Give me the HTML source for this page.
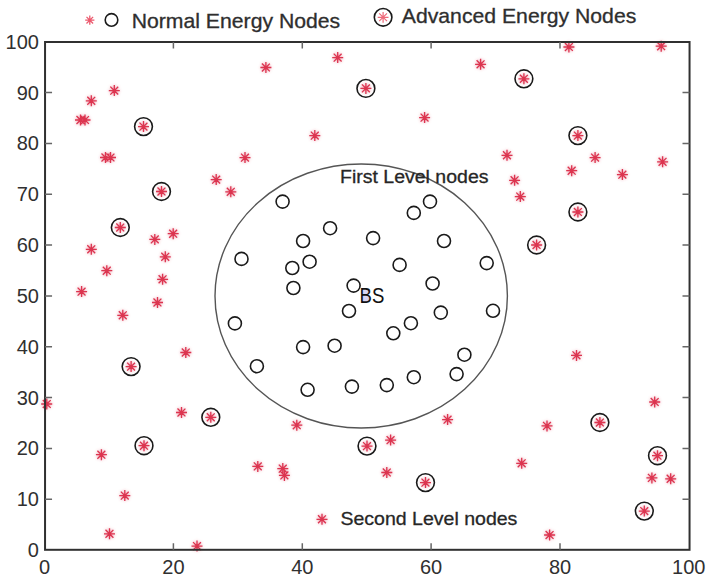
<!DOCTYPE html>
<html><head><meta charset="utf-8"><style>
html,body{margin:0;padding:0;background:#fff;width:711px;height:586px;overflow:hidden}
svg{display:block;font-family:"Liberation Sans",sans-serif}
</style></head><body>
<svg width="711" height="586" viewBox="0 0 711 586" font-family="Liberation Sans, sans-serif">
<rect width="711" height="586" fill="#fff"/>
<ellipse cx="361.2" cy="296" rx="146.2" ry="132" fill="none" stroke="#555" stroke-width="1.4"/>
<defs><filter id="hb" x="-5%" y="-5%" width="110%" height="110%"><feGaussianBlur in="SourceGraphic" stdDeviation="1.6" result="b"/><feComponentTransfer in="b" result="b2"><feFuncA type="linear" slope="0.55"/></feComponentTransfer><feGaussianBlur in="SourceGraphic" stdDeviation="0.35" result="s"/><feMerge><feMergeNode in="b2"/><feMergeNode in="s"/></feMerge></filter></defs><path d="M108.8 90.6h11.0M114.3 85.1v11.0M110.3 86.6l7.9 7.9M110.3 94.6l7.9 -7.9M85.8 100.8h11.0M91.3 95.3v11.0M87.3 96.8l7.9 7.9M87.3 104.8l7.9 -7.9M75.0 120.0h11.0M80.5 114.5v11.0M76.5 116.0l7.9 7.9M76.5 124.0l7.9 -7.9M79.5 120.0h11.0M85.0 114.5v11.0M81.0 116.0l7.9 7.9M81.0 124.0l7.9 -7.9M100.0 157.5h11.0M105.5 152.0v11.0M101.5 153.5l7.9 7.9M101.5 161.5l7.9 -7.9M105.0 157.5h11.0M110.5 152.0v11.0M106.5 153.5l7.9 7.9M106.5 161.5l7.9 -7.9M260.4 67.5h11.0M265.9 62.0v11.0M261.9 63.5l7.9 7.9M261.9 71.5l7.9 -7.9M332.2 57.6h11.0M337.7 52.1v11.0M333.7 53.6l7.9 7.9M333.7 61.6l7.9 -7.9M309.3 135.6h11.0M314.8 130.1v11.0M310.8 131.6l7.9 7.9M310.8 139.6l7.9 -7.9M239.5 157.6h11.0M245.0 152.1v11.0M241.0 153.6l7.9 7.9M241.0 161.6l7.9 -7.9M419.1 117.6h11.0M424.6 112.1v11.0M420.6 113.6l7.9 7.9M420.6 121.6l7.9 -7.9M475.1 64.3h11.0M480.6 58.8v11.0M476.6 60.3l7.9 7.9M476.6 68.3l7.9 -7.9M563.4 47.0h11.0M568.9 41.5v11.0M564.9 43.0l7.9 7.9M564.9 51.0l7.9 -7.9M655.7 46.2h11.0M661.2 40.7v11.0M657.2 42.2l7.9 7.9M657.2 50.2l7.9 -7.9M501.5 155.3h11.0M507.0 149.8v11.0M503.0 151.3l7.9 7.9M503.0 159.3l7.9 -7.9M589.6 157.6h11.0M595.1 152.1v11.0M591.1 153.6l7.9 7.9M591.1 161.6l7.9 -7.9M657.1 161.8h11.0M662.6 156.3v11.0M658.6 157.8l7.9 7.9M658.6 165.8l7.9 -7.9M566.2 170.7h11.0M571.7 165.2v11.0M567.7 166.7l7.9 7.9M567.7 174.7l7.9 -7.9M616.9 174.6h11.0M622.4 169.1v11.0M618.4 170.6l7.9 7.9M618.4 178.6l7.9 -7.9M509.1 180.3h11.0M514.6 174.8v11.0M510.6 176.3l7.9 7.9M510.6 184.3l7.9 -7.9M514.8 196.6h11.0M520.3 191.1v11.0M516.3 192.6l7.9 7.9M516.3 200.6l7.9 -7.9M167.7 233.7h11.0M173.2 228.2v11.0M169.2 229.7l7.9 7.9M169.2 237.7l7.9 -7.9M149.3 239.4h11.0M154.8 233.9v11.0M150.8 235.4l7.9 7.9M150.8 243.4l7.9 -7.9M85.8 249.3h11.0M91.3 243.8v11.0M87.3 245.3l7.9 7.9M87.3 253.3l7.9 -7.9M159.8 256.8h11.0M165.3 251.3v11.0M161.3 252.8l7.9 7.9M161.3 260.8l7.9 -7.9M101.3 270.7h11.0M106.8 265.2v11.0M102.8 266.7l7.9 7.9M102.8 274.7l7.9 -7.9M157.1 279.3h11.0M162.6 273.8v11.0M158.6 275.3l7.9 7.9M158.6 283.3l7.9 -7.9M76.1 291.6h11.0M81.6 286.1v11.0M77.6 287.6l7.9 7.9M77.6 295.6l7.9 -7.9M152.0 302.5h11.0M157.5 297.0v11.0M153.5 298.5l7.9 7.9M153.5 306.5l7.9 -7.9M117.3 315.3h11.0M122.8 309.8v11.0M118.8 311.3l7.9 7.9M118.8 319.3l7.9 -7.9M180.3 352.5h11.0M185.8 347.0v11.0M181.8 348.5l7.9 7.9M181.8 356.5l7.9 -7.9M41.2 404.0h11.0M46.8 398.5v11.0M42.8 400.0l7.9 7.9M42.8 408.0l7.9 -7.9M176.0 412.5h11.0M181.5 407.0v11.0M177.5 408.5l7.9 7.9M177.5 416.5l7.9 -7.9M210.7 179.6h11.0M216.2 174.1v11.0M212.2 175.6l7.9 7.9M212.2 183.6l7.9 -7.9M225.3 191.8h11.0M230.8 186.3v11.0M226.8 187.8l7.9 7.9M226.8 195.8l7.9 -7.9M571.0 355.4h11.0M576.5 349.9v11.0M572.5 351.4l7.9 7.9M572.5 359.4l7.9 -7.9M649.2 402.0h11.0M654.7 396.5v11.0M650.7 398.0l7.9 7.9M650.7 406.0l7.9 -7.9M95.9 454.7h11.0M101.4 449.2v11.0M97.4 450.7l7.9 7.9M97.4 458.7l7.9 -7.9M119.3 495.6h11.0M124.8 490.1v11.0M120.8 491.6l7.9 7.9M120.8 499.6l7.9 -7.9M291.3 425.2h11.0M296.8 419.7v11.0M292.8 421.2l7.9 7.9M292.8 429.2l7.9 -7.9M252.3 466.4h11.0M257.8 460.9v11.0M253.8 462.4l7.9 7.9M253.8 470.4l7.9 -7.9M277.3 468.6h11.0M282.8 463.1v11.0M278.8 464.6l7.9 7.9M278.8 472.6l7.9 -7.9M278.9 475.4h11.0M284.4 469.9v11.0M280.4 471.4l7.9 7.9M280.4 479.4l7.9 -7.9M316.5 519.3h11.0M322.0 513.8v11.0M318.0 515.3l7.9 7.9M318.0 523.3l7.9 -7.9M442.1 419.6h11.0M447.6 414.1v11.0M443.6 415.6l7.9 7.9M443.6 423.6l7.9 -7.9M385.1 440.1h11.0M390.6 434.6v11.0M386.6 436.1l7.9 7.9M386.6 444.1l7.9 -7.9M381.3 472.5h11.0M386.8 467.0v11.0M382.8 468.5l7.9 7.9M382.8 476.5l7.9 -7.9M541.5 425.9h11.0M547.0 420.4v11.0M543.0 421.9l7.9 7.9M543.0 429.9l7.9 -7.9M516.2 463.3h11.0M521.7 457.8v11.0M517.7 459.3l7.9 7.9M517.7 467.3l7.9 -7.9M646.4 477.9h11.0M651.9 472.4v11.0M647.9 473.9l7.9 7.9M647.9 481.9l7.9 -7.9M665.2 478.8h11.0M670.7 473.3v11.0M666.7 474.8l7.9 7.9M666.7 482.8l7.9 -7.9M104.0 533.8h11.0M109.5 528.3v11.0M105.5 529.8l7.9 7.9M105.5 537.8l7.9 -7.9M191.5 546.1h11.0M197.0 540.6v11.0M193.0 542.1l7.9 7.9M193.0 550.1l7.9 -7.9M544.1 535.0h11.0M549.6 529.5v11.0M545.6 531.0l7.9 7.9M545.6 539.0l7.9 -7.9M138.0 126.6h11.0M143.5 121.1v11.0M139.5 122.6l7.9 7.9M139.5 130.6l7.9 -7.9M360.4 88.4h11.0M365.9 82.9v11.0M361.9 84.4l7.9 7.9M361.9 92.4l7.9 -7.9M518.4 78.8h11.0M523.9 73.3v11.0M519.9 74.8l7.9 7.9M519.9 82.8l7.9 -7.9M572.4 135.6h11.0M577.9 130.1v11.0M573.9 131.6l7.9 7.9M573.9 139.6l7.9 -7.9M156.0 191.5h11.0M161.5 186.0v11.0M157.5 187.5l7.9 7.9M157.5 195.5l7.9 -7.9M114.8 227.5h11.0M120.3 222.0v11.0M116.3 223.5l7.9 7.9M116.3 231.5l7.9 -7.9M572.4 212.0h11.0M577.9 206.5v11.0M573.9 208.0l7.9 7.9M573.9 216.0l7.9 -7.9M531.1 245.0h11.0M536.6 239.5v11.0M532.6 241.0l7.9 7.9M532.6 249.0l7.9 -7.9M125.6 366.6h11.0M131.1 361.1v11.0M127.1 362.6l7.9 7.9M127.1 370.6l7.9 -7.9M138.5 445.7h11.0M144.0 440.2v11.0M140.0 441.7l7.9 7.9M140.0 449.7l7.9 -7.9M205.3 417.3h11.0M210.8 411.8v11.0M206.8 413.3l7.9 7.9M206.8 421.3l7.9 -7.9M361.5 446.1h11.0M367.0 440.6v11.0M363.0 442.1l7.9 7.9M363.0 450.1l7.9 -7.9M420.0 482.6h11.0M425.5 477.1v11.0M421.5 478.6l7.9 7.9M421.5 486.6l7.9 -7.9M594.4 422.5h11.0M599.9 417.0v11.0M595.9 418.5l7.9 7.9M595.9 426.5l7.9 -7.9M652.0 455.7h11.0M657.5 450.2v11.0M653.5 451.7l7.9 7.9M653.5 459.7l7.9 -7.9M638.8 511.1h11.0M644.3 505.6v11.0M640.3 507.1l7.9 7.9M640.3 515.1l7.9 -7.9" stroke="#dc3450" stroke-width="1.3" fill="none" stroke-linecap="butt" filter="url(#hb)"/>
<g fill="none" stroke="#1a1a1a" stroke-width="1.6"><circle cx="282.6" cy="201.6" r="6.5"/><circle cx="330.1" cy="228.2" r="6.5"/><circle cx="303.1" cy="241" r="6.5"/><circle cx="241.5" cy="258.9" r="6.5"/><circle cx="309.6" cy="261.7" r="6.5"/><circle cx="292.3" cy="268" r="6.5"/><circle cx="293.4" cy="288" r="6.5"/><circle cx="353.6" cy="285.6" r="6.5"/><circle cx="430" cy="201.6" r="6.5"/><circle cx="413.8" cy="212.9" r="6.5"/><circle cx="373.1" cy="238.1" r="6.5"/><circle cx="444" cy="241" r="6.5"/><circle cx="399.6" cy="264.9" r="6.5"/><circle cx="486.7" cy="263.1" r="6.5"/><circle cx="432.6" cy="283.5" r="6.5"/><circle cx="349" cy="311" r="6.5"/><circle cx="234.9" cy="323.4" r="6.5"/><circle cx="303.1" cy="347.1" r="6.5"/><circle cx="334.6" cy="345.7" r="6.5"/><circle cx="256.9" cy="366.2" r="6.5"/><circle cx="307.6" cy="389.8" r="6.5"/><circle cx="351.9" cy="386.6" r="6.5"/><circle cx="440.8" cy="312.6" r="6.5"/><circle cx="493" cy="310.8" r="6.5"/><circle cx="410.9" cy="323.2" r="6.5"/><circle cx="393.3" cy="333.3" r="6.5"/><circle cx="464.4" cy="354.7" r="6.5"/><circle cx="413.8" cy="377.2" r="6.5"/><circle cx="456.6" cy="374.1" r="6.5"/><circle cx="386.8" cy="385.1" r="6.5"/><circle cx="143.5" cy="126.6" r="8.9"/><circle cx="365.9" cy="88.4" r="8.9"/><circle cx="523.9" cy="78.8" r="8.9"/><circle cx="577.9" cy="135.6" r="8.9"/><circle cx="161.5" cy="191.5" r="8.9"/><circle cx="120.3" cy="227.5" r="8.9"/><circle cx="577.9" cy="212" r="8.9"/><circle cx="536.6" cy="245" r="8.9"/><circle cx="131.1" cy="366.6" r="8.9"/><circle cx="144" cy="445.7" r="8.9"/><circle cx="210.8" cy="417.3" r="8.9"/><circle cx="367" cy="446.1" r="8.9"/><circle cx="425.5" cy="482.6" r="8.9"/><circle cx="599.9" cy="422.5" r="8.9"/><circle cx="657.5" cy="455.7" r="8.9"/><circle cx="644.3" cy="511.1" r="8.9"/></g>
<rect x="45.05" y="42.0" width="644.5" height="507.8" fill="none" stroke="#303030" stroke-width="2.0"/><path d="M173.4 42.0v6.5M173.4 549.8v-6.5M302.3 42.0v6.5M302.3 549.8v-6.5M431.1 42.0v6.5M431.1 549.8v-6.5M560.0 42.0v6.5M560.0 549.8v-6.5M45.05 499.3h7M689.5 499.3h-7M45.05 448.4h7M689.5 448.4h-7M45.05 397.6h7M689.5 397.6h-7M45.05 346.8h7M689.5 346.8h-7M45.05 296.0h7M689.5 296.0h-7M45.05 245.1h7M689.5 245.1h-7M45.05 194.3h7M689.5 194.3h-7M45.05 143.5h7M689.5 143.5h-7M45.05 92.6h7M689.5 92.6h-7" stroke="#666" stroke-width="1.5" fill="none"/>
<g font-size="20" fill="#303030"><text x="44.6" y="574.4" text-anchor="middle">0</text><text x="173.4" y="574.4" text-anchor="middle">20</text><text x="302.3" y="574.4" text-anchor="middle">40</text><text x="431.1" y="574.4" text-anchor="middle">60</text><text x="560.0" y="574.4" text-anchor="middle">80</text><text x="688.8" y="574.4" text-anchor="middle">100</text><text x="38.9" y="557.0" text-anchor="end">0</text><text x="38.9" y="506.2" text-anchor="end">10</text><text x="38.9" y="455.3" text-anchor="end">20</text><text x="38.9" y="404.5" text-anchor="end">30</text><text x="38.9" y="353.7" text-anchor="end">40</text><text x="38.9" y="302.9" text-anchor="end">50</text><text x="38.9" y="252.0" text-anchor="end">60</text><text x="38.9" y="201.2" text-anchor="end">70</text><text x="38.9" y="150.4" text-anchor="end">80</text><text x="38.9" y="99.5" text-anchor="end">90</text><text x="38.9" y="48.7" text-anchor="end">100</text></g>
<path d="M85.2 20.2h9.2M89.8 15.6v9.2M86.5 16.9l6.6 6.6M86.5 23.5l6.6 -6.6" stroke="#ec5a6e" stroke-width="1.3" fill="none"/><circle cx="111.5" cy="19.9" r="6.3" fill="none" stroke="#1a1a1a" stroke-width="1.6"/><circle cx="383.1" cy="17.3" r="8.8" fill="none" stroke="#1a1a1a" stroke-width="1.6"/><path d="M377.7 17.3h10.8M383.1 11.9v10.8M379.2 13.4l7.8 7.8M379.2 21.2l7.8 -7.8" stroke="#ee6a7a" stroke-width="1.2" fill="none"/><text x="131.7" y="27.9" font-size="19.8" textLength="208.5" lengthAdjust="spacingAndGlyphs" fill="#2e2e2e" stroke="#2e2e2e" stroke-width="0.3">Normal Energy Nodes</text><text x="401.8" y="23.4" font-size="19.8" textLength="234.5" lengthAdjust="spacingAndGlyphs" fill="#2e2e2e" stroke="#2e2e2e" stroke-width="0.3">Advanced Energy Nodes</text>
<text x="340" y="183.2" font-size="18.8" textLength="148.5" lengthAdjust="spacingAndGlyphs" fill="#262626" stroke="#262626" stroke-width="0.3">First Level nodes</text><text x="340.4" y="525.2" font-size="19" textLength="177" lengthAdjust="spacingAndGlyphs" fill="#262626" stroke="#262626" stroke-width="0.3">Second Level nodes</text><rect x="361" y="290" width="8" height="12" fill="#c8c0f0" opacity="0.7"/><text x="359.6" y="303.3" font-size="21.5" textLength="24.8" lengthAdjust="spacingAndGlyphs" fill="#111">BS</text>
</svg>
</body></html>
